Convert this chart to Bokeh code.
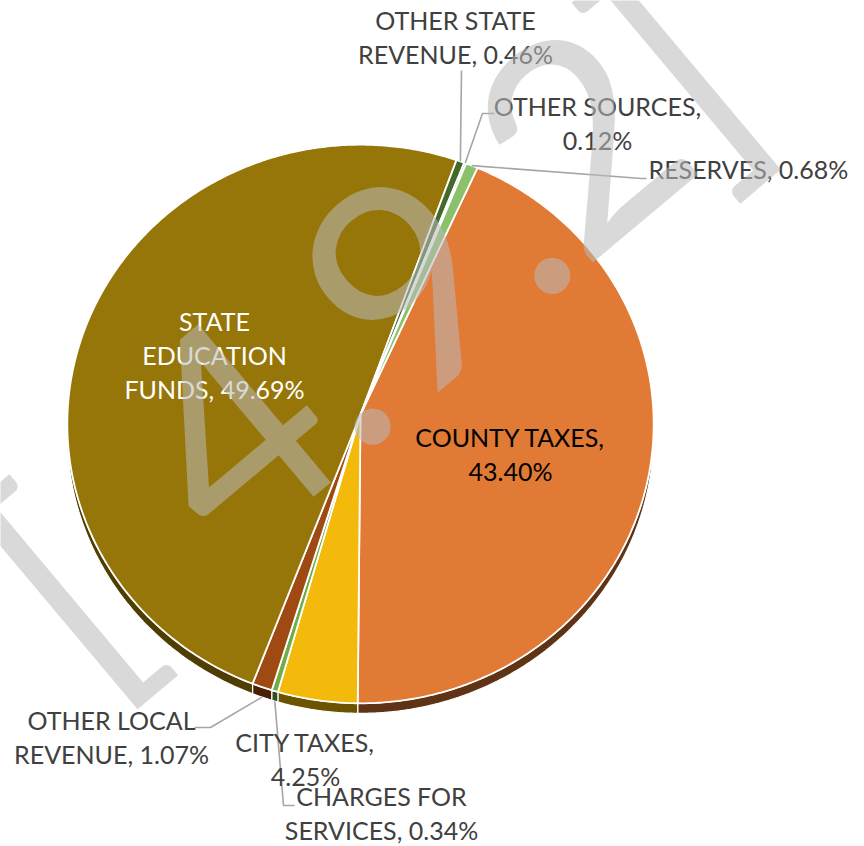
import numpy as np
from bokeh.plotting import figure
from bokeh.models import Range1d, ColumnDataSource
from bokeh.core.properties import value
from bokeh.embed import file_html
from bokeh.resources import INLINE

# ---------------- data ----------------
categories = ["COUNTY TAXES", "CITY TAXES", "CHARGES FOR SERVICES", "OTHER LOCAL REVENUE",
              "STATE EDUCATION FUNDS", "OTHER STATE REVENUE", "OTHER SOURCES", "RESERVES"]
shares = [43.40, 4.25, 0.34, 1.07, 49.69, 0.46, 0.12, 0.68]
watermark_text = "[4.9.2]"

# ---------------- styles ----------------
top_colors = ["#E07A35", "#F3B90B", "#70AD47", "#9E4A12", "#977609", "#446A2B", "#A5A5A5", "#8CC16B"]
side_colors = ["#5E3316", "#6B5300", "#2F4F1F", "#4A1F05", "#4F3E03", "#2A4019", "#606060", "#557A40"]

# pie geometry in page-pixel space (y grows downward, converted to -y for the plot)
CX, CY, RX, RY, K, DEPTH = 360.0, 414.0, 293.0, 279.0, 0.034, 10.0
START = 24.3  # first slice angle, clockwise from 12 o'clock


def edge(phi_deg, dy=0.0):
    f = np.radians(phi_deg)
    s, c = np.sin(f), np.cos(f)
    w = 1 + K * c
    return CX + RX * s / w, CY - RY * c / w + dy


LABEL_PX = 25
BASE_FIX = 0.39  # em: shift of the rendered baseline
# label layout: (anchor x, first baseline y, align, color, words per line)
label_layout = {
    "COUNTY TAXES": (510, 446, "center", "#000000", [2, 1]),
    "CITY TAXES": (305, 751, "center", "#404040", [2, 1]),
    "CHARGES FOR SERVICES": (381, 805, "center", "#404040", [2, 2]),
    "OTHER LOCAL REVENUE": (111, 729, "center", "#404040", [2, 2]),
    "STATE EDUCATION FUNDS": (214, 330, "center", "#FFFFFF", [1, 1, 2]),
    "OTHER STATE REVENUE": (455, 29, "center", "#404040", [2, 2]),
    "OTHER SOURCES": (597, 115, "center", "#404040", [2, 1]),
    "RESERVES": (648, 178, "left", "#404040", [2]),
}
LINE_STEP = 34

# leader elbows (page pixels); start point is computed from the slice
leader_layout = {
    "OTHER STATE REVENUE": ([(461, 70)], 0),
    "OTHER SOURCES": ([(482, 113), (494, 113)], 0),
    "RESERVES": ([(641, 178), (646, 178)], 0),
    "OTHER LOCAL REVENUE": ([(210, 727), (194, 727)], DEPTH),
    "CHARGES FOR SERVICES": ([(283, 805), (294, 805)], DEPTH),
}

# watermark layout: baseline point (page px), glyph centres along the baseline, angle, size
WM_BASE = (388.0, 445.0)
wm_offsets = [-344, -112, 0, 117, 234.6, 344, 460]
WM_ANGLE = np.radians(40)
WM_PX = 288

# ---------------- figure ----------------
W, H = 864, 846
p = figure(width=W, height=H, x_range=Range1d(0, W), y_range=Range1d(-H, 0),
           output_backend="svg", toolbar_location=None, min_border=0,
           x_axis_location=None, y_axis_location=None)
p.grid.visible = False
p.outline_line_color = None
p.background_fill_color = "white"
p.border_fill_color = "white"

total = sum(shares)
bounds = START + 360.0 * np.concatenate([[0.0], np.cumsum(shares)]) / total

# sides (3D depth) for the front half
sx, sy, sc = [], [], []
for i in range(len(shares)):
    a, b = bounds[i], bounds[i + 1]
    lo, hi = max(a, 90.0), min(b, 270.0)
    if hi > lo:
        ph = np.linspace(lo, hi, max(3, int((hi - lo) / 0.5) + 2))
        xt, yt = edge(ph)
        xb, yb = edge(ph[::-1], DEPTH)
        sx.append(list(xt) + list(xb))
        sy.append([-v for v in list(yt) + list(yb)])
        sc.append(side_colors[i])
p.patches(sx, sy, fill_color=sc, line_color="white", line_width=1.2)

# top faces
tx, ty = [], []
for i in range(len(shares)):
    a, b = bounds[i], bounds[i + 1]
    ph = np.linspace(a, b, max(3, int((b - a) / 0.5) + 2))
    xe, ye = edge(ph)
    tx.append([CX] + list(xe))
    ty.append([-CY] + [-v for v in ye])
p.patches(tx, ty, fill_color=top_colors, line_color="white", line_width=1.8, line_join="round")

# leader lines
lx, ly = [], []
for i, cat in enumerate(categories):
    if cat in leader_layout:
        pts, dy = leader_layout[cat]
        mid = 0.5 * (bounds[i] + bounds[i + 1])
        x0, y0 = edge(mid, dy)
        lx.append([x0] + [q[0] for q in pts])
        ly.append([-y0] + [-q[1] for q in pts])
p.multi_line(lx, ly, line_color="#A6A6A6", line_width=1.6)

# data labels
for align in ("center", "left"):
    src = dict(x=[], y=[], text=[], color=[])
    for cat, share in zip(categories, shares):
        x, y0, al, col, split = label_layout[cat]
        if al != align:
            continue
        words = f"{cat}, {share:.2f}%".split(" ")
        k = 0
        for j, n in enumerate(split):
            src["x"].append(x)
            src["y"].append(-(y0 + j * LINE_STEP - BASE_FIX * LABEL_PX))
            src["text"].append(" ".join(words[k:k + n]))
            src["color"].append(col)
            k += n
    p.text(x="x", y="y", text="text", text_color="color", source=ColumnDataSource(src),
           text_font=value("Lato"), text_font_size=f"{LABEL_PX}px", text_align=align,
           text_baseline="alphabetic")

# watermark (on top of everything), one glyph per character placed along its baseline
ux, uy = np.cos(WM_ANGLE), -np.sin(WM_ANGLE)     # baseline direction (page px)
nx, ny = -np.sin(WM_ANGLE), -np.cos(WM_ANGLE)    # glyph "up" direction (page px)
shift = BASE_FIX * WM_PX
wx = [WM_BASE[0] + d * ux + shift * nx for d in wm_offsets]
wy = [-(WM_BASE[1] + d * uy + shift * ny) for d in wm_offsets]
p.text(x=wx, y=wy, text=list(watermark_text), angle=WM_ANGLE, text_font=value("Lato"),
       text_font_size=f"{WM_PX}px", text_color="#BABABA", text_alpha=0.55,
       text_align="center", text_baseline="alphabetic")

open("out.html", "w").write(file_html(p, INLINE))
